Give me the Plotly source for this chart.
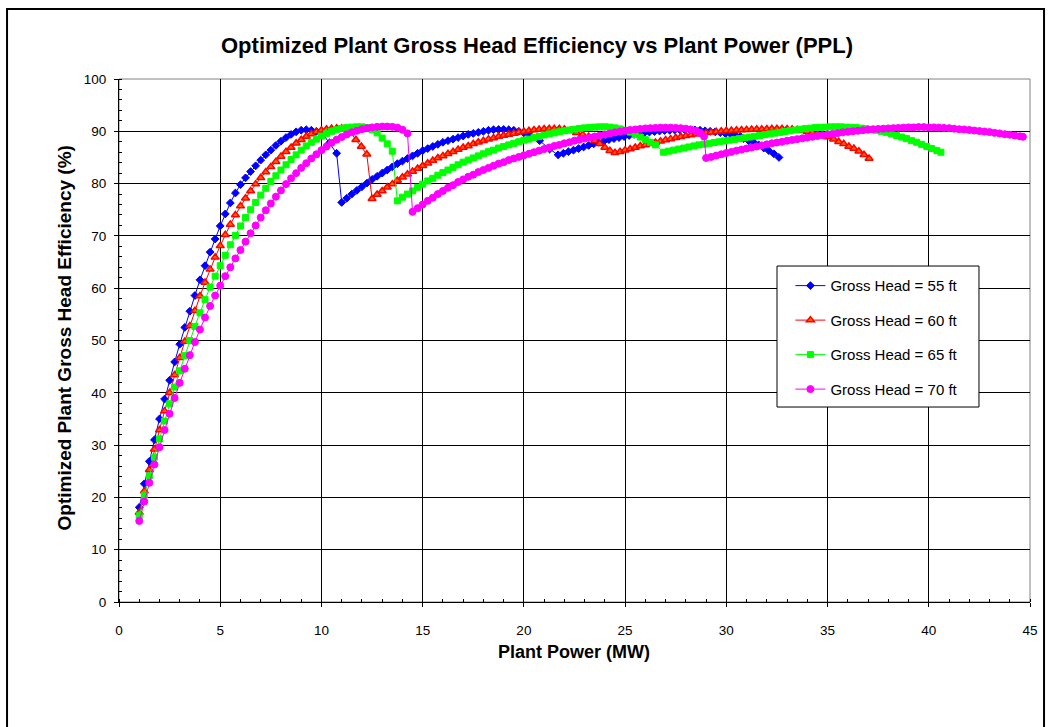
import plotly.graph_objects as go

# ---------------- data ----------------
head55_power = [1.0, 1.25, 1.5, 1.75, 2.0, 2.25, 2.5, 2.75, 3.0, 3.25, 3.5, 3.75, 4.0, 4.25, 4.5, 4.75,
                5.0, 5.25, 5.5, 5.75, 6.0, 6.25, 6.5, 6.75, 7.0, 7.25, 7.5, 7.75, 8.0, 8.25, 8.5, 8.75,
                9.0, 9.25, 9.5, 9.75, 10.05, 10.4, 10.75,
                11.0, 11.25, 11.5, 11.75, 12.0, 12.25, 12.5, 12.75, 13.0, 13.25, 13.5, 13.75, 14.0, 14.25,
                14.5, 14.75, 15.0, 15.25, 15.5, 15.75, 16.0, 16.25, 16.5, 16.75, 17.0, 17.25, 17.5, 17.75,
                18.0, 18.25, 18.5, 18.75, 19.0, 19.25, 19.5, 19.75, 20.0, 20.3, 20.78, 21.27,
                21.69, 21.95, 22.2, 22.45, 22.7, 22.95, 23.2, 23.45, 23.7, 23.95, 24.2, 24.45, 24.7, 24.95,
                25.2, 25.45, 25.7, 25.95, 26.2, 26.45, 26.7, 26.95, 27.2, 27.45, 27.7, 27.95, 28.2, 28.45,
                28.7, 28.95, 29.2, 29.45, 29.7, 29.95, 30.2, 30.45, 30.7, 30.85, 31.1, 31.35, 31.6, 31.85,
                32.1, 32.35, 32.6]
head55_eff = [18.1, 22.6, 26.9, 31.0, 35.0, 38.8, 42.4, 45.9, 49.3, 52.5, 55.6, 58.6, 61.6, 64.3, 66.9, 69.4,
              71.9, 74.2, 76.3, 78.2, 79.8, 81.1, 82.3, 83.4, 84.5, 85.5, 86.4, 87.3, 88.1, 88.8, 89.4, 89.9,
              90.2, 90.3, 90.2, 90.0, 89.6, 87.8, 85.8,
              76.4, 77.2, 78.0, 78.7, 79.4, 80.1, 80.8, 81.4, 82.0, 82.6, 83.2, 83.8, 84.3, 84.8,
              85.3, 85.8, 86.3, 86.7, 87.1, 87.5, 87.9, 88.2, 88.5, 88.8, 89.1, 89.4, 89.6, 89.8,
              90.0, 90.2, 90.3, 90.35, 90.35, 90.3, 90.2, 90.0, 89.7, 89.2, 88.2, 86.6,
              85.5, 85.8, 86.1, 86.4, 86.7, 87.0, 87.3, 87.6, 87.9, 88.1, 88.4, 88.6, 88.8, 89.0,
              89.2, 89.4, 89.55, 89.7, 89.85, 89.95, 90.05, 90.15, 90.2, 90.25, 90.3, 90.3, 90.3, 90.25,
              90.2, 90.1, 90.0, 89.9, 89.75, 89.6, 89.5, 89.3, 89.0, 88.6, 88.2, 87.9, 87.4, 86.8,
              86.3, 85.7, 85.0]

head60_power = [1.0, 1.25, 1.5, 1.75, 2.0, 2.25, 2.5, 2.75, 3.0, 3.25, 3.5, 3.75, 4.0, 4.25, 4.5, 4.75,
                5.0, 5.25, 5.5, 5.75, 6.0, 6.25, 6.5, 6.75, 7.0, 7.25, 7.5, 7.75, 8.0, 8.25, 8.5, 8.75,
                9.0, 9.25, 9.5, 9.75, 10.0, 10.25, 10.5, 10.75, 11.0, 11.25, 11.45, 11.7, 11.97, 12.24,
                12.5, 12.75, 13.0, 13.25, 13.5, 13.75, 14.0, 14.25, 14.5, 14.75, 15.0, 15.25, 15.5, 15.75,
                16.0, 16.25, 16.5, 16.75, 17.0, 17.25, 17.5, 17.75, 18.0, 18.25, 18.5, 18.75, 19.0, 19.25,
                19.5, 19.75, 20.0, 20.25, 20.5, 20.75, 21.0, 21.25, 21.5, 21.75, 22.0, 22.3, 22.6, 22.9,
                23.2, 23.5, 23.75, 24.0, 24.25,
                24.5, 24.75, 25.0, 25.25, 25.5, 25.75, 26.0, 26.25, 26.5, 26.75, 27.0, 27.25, 27.5, 27.75,
                28.0, 28.25, 28.5, 28.75, 29.0, 29.25, 29.5, 29.75, 30.0, 30.25, 30.5, 30.75, 31.0, 31.25,
                31.5, 31.75, 32.0, 32.25, 32.5, 32.75, 33.0, 33.25, 33.5, 33.75, 34.0, 34.25, 34.5, 34.75,
                35.0, 35.3, 35.55, 35.8, 36.05, 36.3, 36.55, 36.8, 37.05]
head60_eff = [17.1, 21.2, 25.3, 29.2, 32.9, 36.5, 40.0, 43.4, 46.7, 49.8, 52.8, 55.7, 58.5, 61.1, 63.6, 65.9,
              68.1, 70.2, 72.2, 74.0, 75.7, 77.2, 78.6, 79.9, 81.1, 82.2, 83.2, 84.2, 85.2, 86.1, 86.9, 87.7,
              88.4, 89.0, 89.5, 89.9, 90.2, 90.4, 90.55, 90.6, 90.6, 90.4, 89.7, 88.4, 87.1, 85.6,
              77.1, 77.9, 78.6, 79.3, 79.9, 80.6, 81.2, 81.8, 82.3, 82.9, 83.4, 83.9, 84.4, 84.9,
              85.3, 85.7, 86.1, 86.5, 86.9, 87.2, 87.6, 87.9, 88.2, 88.5, 88.7, 89.0, 89.2, 89.4,
              89.6, 89.8, 89.95, 90.1, 90.25, 90.35, 90.45, 90.5, 90.5, 90.5, 90.4, 90.1, 89.7, 89.4,
              89.0, 88.2, 87.6, 86.9, 86.3,
              85.9, 86.1, 86.4, 86.6, 86.9, 87.2, 87.4, 87.6, 87.85, 88.1, 88.35, 88.55, 88.75, 88.95,
              89.15, 89.3, 89.45, 89.6, 89.7, 89.8, 89.9, 90.0, 90.1, 90.15, 90.2, 90.25, 90.3, 90.35,
              90.4, 90.4, 90.45, 90.5, 90.5, 90.5, 90.45, 90.4, 90.3, 90.1, 89.9, 89.7, 89.5, 89.2,
              88.9, 88.5, 88.0, 87.6, 87.1, 86.7, 86.2, 85.5, 84.8]

head65_power = [1.0, 1.25, 1.5, 1.75, 2.0, 2.25, 2.5, 2.75, 3.0, 3.25, 3.5, 3.75, 4.0, 4.25, 4.5, 4.75,
                5.0, 5.25, 5.5, 5.75, 6.0, 6.25, 6.5, 6.75, 7.0, 7.25, 7.5, 7.75, 8.0, 8.25, 8.5, 8.75,
                9.0, 9.25, 9.5, 9.75, 10.0, 10.25, 10.5, 10.75, 11.0, 11.25, 11.5, 11.75, 12.0, 12.25,
                12.5, 12.75, 13.0, 13.25, 13.5,
                13.75, 14.0, 14.25, 14.5, 14.75, 15.0, 15.25, 15.5, 15.75, 16.0, 16.25, 16.5, 16.75, 17.0,
                17.25, 17.5, 17.75, 18.0, 18.25, 18.5, 18.75, 19.0, 19.25, 19.5, 19.75, 20.0, 20.25, 20.5,
                20.75, 21.0, 21.25, 21.5, 21.75, 22.0, 22.25, 22.5, 22.75, 23.0, 23.25, 23.5, 23.75, 24.0,
                24.25, 24.5, 24.75, 25.0, 25.25, 25.5, 25.75, 26.0, 26.25, 26.5,
                26.9, 27.15, 27.4, 27.65, 27.9, 28.15, 28.4, 28.65, 28.9, 29.15, 29.4, 29.65, 29.9, 30.15,
                30.4, 30.65, 30.9, 31.15, 31.4, 31.65, 31.9, 32.15, 32.4, 32.65, 32.9, 33.15, 33.4, 33.65,
                33.9, 34.15, 34.4, 34.65, 34.9, 35.15, 35.4, 35.65, 35.9, 36.15, 36.4, 36.65, 36.9, 37.15,
                37.4, 37.65, 37.9, 38.15, 38.4, 38.65, 38.9, 39.15, 39.4, 39.65, 39.9, 40.15, 40.4, 40.6]
head65_eff = [16.5, 20.4, 24.1, 27.7, 31.2, 34.6, 37.9, 41.1, 44.2, 47.1, 50.0, 52.7, 55.3, 57.8, 60.2, 62.3,
              64.3, 66.3, 68.3, 70.1, 71.9, 73.5, 75.0, 76.4, 77.8, 79.1, 80.4, 81.5, 82.6, 83.6, 84.6, 85.5,
              86.4, 87.2, 87.9, 88.5, 89.1, 89.6, 90.0, 90.3, 90.55, 90.7, 90.8, 90.85, 90.85, 90.7,
              90.3, 89.7, 88.7, 87.6, 86.2,
              76.7, 77.4, 78.0, 78.6, 79.3, 79.9, 80.5, 81.0, 81.6, 82.1, 82.6, 83.1, 83.6, 84.1,
              84.5, 84.9, 85.3, 85.7, 86.1, 86.4, 86.8, 87.1, 87.4, 87.7, 88.0, 88.3, 88.5, 88.8,
              89.0, 89.3, 89.5, 89.7, 89.9, 90.1, 90.25, 90.4, 90.55, 90.65, 90.75, 90.8, 90.85, 90.85,
              90.8, 90.65, 90.45, 90.2, 89.85, 89.4, 88.9, 88.4, 87.9, 87.4,
              86.0, 86.2, 86.4, 86.6, 86.8, 87.0, 87.2, 87.4, 87.55, 87.7, 87.85, 88.0, 88.15, 88.3,
              88.45, 88.6, 88.75, 88.9, 89.05, 89.2, 89.35, 89.5, 89.65, 89.8, 89.95, 90.1, 90.25, 90.4,
              90.5, 90.6, 90.7, 90.75, 90.8, 90.85, 90.85, 90.85, 90.8, 90.75, 90.7, 90.6, 90.5, 90.35,
              90.2, 90.0, 89.8, 89.5, 89.2, 88.9, 88.6, 88.2, 87.9, 87.5, 87.1, 86.7, 86.3, 86.0]

head70_power = [1.0, 1.25, 1.5, 1.75, 2.0, 2.25, 2.5, 2.75, 3.0, 3.25, 3.5, 3.75, 4.0, 4.25, 4.5, 4.75,
                5.0, 5.25, 5.5, 5.75, 6.0, 6.25, 6.5, 6.75, 7.0, 7.25, 7.5, 7.75, 8.0, 8.25, 8.5, 8.75,
                9.0, 9.25, 9.5, 9.75, 10.0, 10.25, 10.5, 10.75, 11.0, 11.25, 11.5, 11.75, 12.0, 12.25,
                12.5, 12.75, 13.0, 13.25, 13.5, 13.75, 14.0, 14.25,
                14.5, 14.75, 15.0, 15.25, 15.5, 15.75, 16.0, 16.25, 16.5, 16.75, 17.0, 17.25, 17.5, 17.75,
                18.0, 18.25, 18.5, 18.75, 19.0, 19.25, 19.5, 19.75, 20.0, 20.25, 20.5, 20.75, 21.0, 21.25,
                21.5, 21.75, 22.0, 22.25, 22.5, 22.75, 23.0, 23.25, 23.5, 23.75, 24.0, 24.25, 24.5, 24.75,
                25.0, 25.25, 25.5, 25.75, 26.0, 26.25, 26.5, 26.75, 27.0, 27.25, 27.5, 27.75, 28.0, 28.25,
                28.5, 28.7, 28.9,
                29.0, 29.25, 29.5, 29.75, 30.0, 30.25, 30.5, 30.75, 31.0, 31.25, 31.5, 31.75, 32.0, 32.25,
                32.5, 32.75, 33.0, 33.25, 33.5, 33.75, 34.0, 34.25, 34.5, 34.75, 35.0, 35.25, 35.5, 35.75,
                36.0, 36.25, 36.5, 36.75, 37.0, 37.25, 37.5, 37.75, 38.0, 38.25, 38.5, 38.75, 39.0, 39.25,
                39.5, 39.75, 40.0, 40.25, 40.5, 40.75, 41.0, 41.25, 41.5, 41.75, 42.0, 42.25, 42.5, 42.75,
                43.0, 43.25, 43.5, 43.75, 44.0, 44.25, 44.5, 44.65]
head70_eff = [15.5, 19.2, 22.8, 26.3, 29.6, 32.9, 36.0, 39.0, 41.9, 44.6, 47.2, 49.7, 52.1, 54.4, 56.6, 58.6,
              60.5, 62.3, 64.0, 65.7, 67.3, 68.9, 70.5, 72.0, 73.5, 74.9, 76.2, 77.5, 78.7, 79.9, 81.0, 82.0,
              83.0, 83.9, 84.8, 85.6, 86.4, 87.1, 87.8, 88.4, 88.9, 89.4, 89.8, 90.1, 90.4, 90.6,
              90.75, 90.85, 90.9, 90.9, 90.85, 90.7, 90.3, 89.6,
              74.6, 75.3, 76.0, 76.7, 77.3, 78.0, 78.6, 79.2, 79.7, 80.3, 80.8, 81.3, 81.7, 82.2,
              82.6, 83.0, 83.4, 83.8, 84.1, 84.5, 84.8, 85.1, 85.4, 85.7, 86.0, 86.3, 86.6, 86.9,
              87.2, 87.4, 87.7, 87.9, 88.2, 88.4, 88.6, 88.8, 89.0, 89.2, 89.4, 89.6, 89.8, 89.95,
              90.1, 90.25, 90.35, 90.45, 90.55, 90.6, 90.65, 90.7, 90.7, 90.7, 90.65, 90.6, 90.5, 90.35,
              90.1, 89.7, 89.0,
              84.9, 85.1, 85.35, 85.6, 85.85, 86.05, 86.3, 86.5, 86.7, 86.9, 87.1, 87.3, 87.5, 87.7,
              87.85, 88.0, 88.2, 88.35, 88.5, 88.65, 88.8, 88.95, 89.1, 89.25, 89.4, 89.5, 89.65, 89.8,
              89.9, 90.0, 90.1, 90.2, 90.3, 90.4, 90.45, 90.5, 90.55, 90.6, 90.65, 90.7, 90.75, 90.75,
              90.8, 90.8, 90.75, 90.75, 90.7, 90.65, 90.6, 90.5, 90.4, 90.35, 90.25, 90.15, 90.05, 89.95,
              89.85, 89.7, 89.6, 89.45, 89.35, 89.2, 89.05, 88.95]

series_names = ["Gross Head = 55 ft", "Gross Head = 60 ft", "Gross Head = 65 ft", "Gross Head = 70 ft"]

# ---------------- styling ----------------
FONT = "Arial, Liberation Sans, sans-serif"
styles = [
    dict(color="#0000FF", symbol="diamond", size=6, mfill="#0000FF", mline="#0000FF", mw=1),
    dict(color="#FF0000", symbol="triangle-up", size=7, mfill="#FF6000", mline="#FF0000", mw=1.5),
    dict(color="#00FF00", symbol="square", size=6, mfill="#00FF00", mline="#00FF00", mw=1),
    dict(color="#FF00FF", symbol="circle", size=7, mfill="#FF00FF", mline="#FF00FF", mw=1),
]
xs = [head55_power, head60_power, head65_power, head70_power]
ys = [head55_eff, head60_eff, head65_eff, head70_eff]

fig = go.Figure()
for i in range(4):
    s = styles[i]
    fig.add_trace(go.Scatter(
        x=xs[i], y=ys[i], mode="lines+markers", name=series_names[i],
        legendgroup=f"g{i}",
        line=dict(color=s["color"], width=1),
        marker=dict(symbol=s["symbol"], size=s["size"], color=s["mfill"],
                    line=dict(color=s["mline"], width=s["mw"])),
    ))

# plot area: x 119..1030, y 79..602
fig.update_layout(
    width=1050, height=727,
    margin=dict(l=119, r=20, t=79, b=125),
    paper_bgcolor="white", plot_bgcolor="white",
    font=dict(family=FONT, size=13, color="black"),
    showlegend=True,
    legend=dict(x=0.737, y=0.636, xanchor="left", yanchor="top",
                bgcolor="rgba(0,0,0,0)", borderwidth=0,
                font=dict(family=FONT, size=15, color="black"),
                traceorder="grouped", tracegroupgap=12, itemwidth=30),
    xaxis=dict(range=[0, 45], dtick=5, tick0=0, showgrid=True, gridcolor="black", gridwidth=1,
               zeroline=False, showline=True, linecolor="black", linewidth=1,
               ticks="outside", ticklen=4, tickcolor="black", ticklabelstandoff=12,
               minor=dict(dtick=1, ticks="inside", ticklen=3, tickcolor="black", showgrid=False),
               tickfont=dict(family=FONT, size=13.5)),
    yaxis=dict(range=[0, 100], dtick=10, tick0=0, showgrid=True, gridcolor="black", gridwidth=1,
               zeroline=False, showline=True, linecolor="black", linewidth=1,
               ticks="outside", ticklen=4, tickcolor="black", ticklabelstandoff=5,
               minor=dict(dtick=2, ticks="inside", ticklen=3, tickcolor="black", showgrid=False),
               tickfont=dict(family=FONT, size=13.5)),
    shapes=[
        # chart area border
        dict(type="rect", xref="paper", yref="paper", x0=-0.1229, x1=1.0154, y0=-0.26, y1=1.1338,
             line=dict(color="black", width=2), fillcolor="rgba(0,0,0,0)", layer="below"),
        # plot area border
        dict(type="rect", xref="paper", yref="paper", x0=0, x1=1, y0=0, y1=1,
             line=dict(color="#808080", width=1), fillcolor="rgba(0,0,0,0)", layer="below"),
        # legend box
        dict(type="rect", xref="paper", yref="paper", x0=0.7223, x1=0.9440, y0=0.3728, y1=0.6424,
             line=dict(color="black", width=1), fillcolor="white", layer="above"),
    ],
    annotations=[
        dict(text="<b>Optimized Plant Gross Head Efficiency vs Plant Power (PPL)</b>",
             xref="paper", yref="paper", x=0.4588, y=1.065, showarrow=False,
             font=dict(family=FONT, size=22, color="black"), xanchor="center", yanchor="middle"),
        dict(text="<b>Plant Power (MW)</b>", xref="paper", yref="paper", x=0.4995, y=-0.0956,
             showarrow=False, font=dict(family=FONT, size=18, color="black"),
             xanchor="center", yanchor="middle"),
        dict(text="<b>Optimized Plant Gross Head Efficiency (%)</b>", xref="paper", yref="paper",
             x=-0.0593, y=0.5057, showarrow=False, textangle=-90,
             font=dict(family=FONT, size=19, color="black"), xanchor="center", yanchor="middle"),
    ],
)

fig.write_html("out.html")
